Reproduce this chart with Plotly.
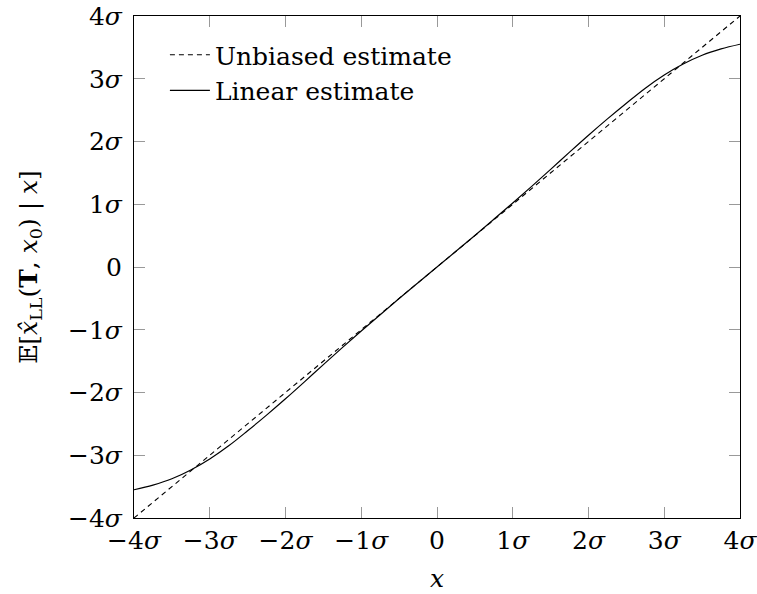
import plotly.graph_objects as go

# Grid of x positions (in units of sigma)
x_vals = [-4.0, -3.75, -3.5, -3.25, -3.0, -2.75, -2.5, -2.25, -2.0, -1.75, -1.5, -1.25,
          -1.0, -0.75, -0.5, -0.25, 0.0, 0.25, 0.5, 0.75, 1.0, 1.25, 1.5, 1.75,
          2.0, 2.25, 2.5, 2.75, 3.0, 3.25, 3.5, 3.75, 4.0]

# Expected value of the linear estimate at each x
linear_est = [-3.55, -3.475, -3.375, -3.235, -3.06, -2.85, -2.61, -2.36, -2.10, -1.83, -1.555, -1.285,
              -1.02, -0.76, -0.503, -0.25, 0.0, 0.25, 0.503, 0.76, 1.02, 1.285, 1.555, 1.83,
              2.10, 2.36, 2.61, 2.85, 3.06, 3.235, 3.375, 3.475, 3.55]

# Unbiased reference line endpoints
unbiased_x = [-4.0, 4.0]
unbiased_y = [-4.0, 4.0]

tick_vals = [-4, -3, -2, -1, 0, 1, 2, 3, 4]
tick_text = ["−4<i>σ</i>", "−3<i>σ</i>", "−2<i>σ</i>", "−1<i>σ</i>", "0",
             "1<i>σ</i>", "2<i>σ</i>", "3<i>σ</i>", "4<i>σ</i>"]

FONT = "DejaVu Serif"
FSIZE = 25

fig = go.Figure()
fig.add_trace(go.Scatter(
    x=unbiased_x, y=unbiased_y, mode="lines", name="Unbiased estimate",
    line=dict(color="black", width=1.1, dash="5px,4px"),
))
fig.add_trace(go.Scatter(
    x=x_vals, y=linear_est, mode="lines", name="Linear estimate",
    line=dict(color="black", width=1.2, shape="spline"),
))

axis_common = dict(
    tickvals=tick_vals, ticktext=tick_text,
    ticks="inside", ticklen=11, tickwidth=1, tickcolor="#999999",
    showline=True, linecolor="black", linewidth=1.2, mirror="allticks",
    showgrid=False, zeroline=False, automargin=False,
    ticklabeloverflow="allow",
    tickfont=dict(family=FONT, size=FSIZE, color="black"),
)

fig.update_xaxes(range=[-4, 4], ticklabelstandoff=0, **axis_common)
fig.update_yaxes(range=[-4, 4], ticklabelstandoff=6, **axis_common)

# Axis titles placed as paper annotations
fig.add_annotation(text="<i>x</i>", xref="paper", yref="paper", x=0.5, y=-0.12,
                   xanchor="center", yanchor="middle", showarrow=False,
                   font=dict(family=FONT, size=FSIZE, color="black"))
fig.add_annotation(text="𝔼[<i>x̂</i><sub>LL</sub>(<b>T</b>, <i>x</i><sub>0</sub>) | <i>x</i>]",
                   xref="paper", yref="paper", x=-0.172, y=0.5, textangle=-90,
                   xanchor="center", yanchor="middle", showarrow=False,
                   font=dict(family=FONT, size=FSIZE, color="black"))

fig.update_layout(
    width=757, height=594,
    margin=dict(l=134, r=17, t=16, b=76),
    plot_bgcolor="white", paper_bgcolor="white",
    font=dict(family=FONT, size=FSIZE, color="black"),
    legend=dict(x=0.051, y=0.968, xanchor="left", yanchor="top",
                bgcolor="rgba(0,0,0,0)", font=dict(family=FONT, size=FSIZE, color="black"),
                itemwidth=40, tracegroupgap=0),
    showlegend=True,
)

fig.write_html("out.html")
